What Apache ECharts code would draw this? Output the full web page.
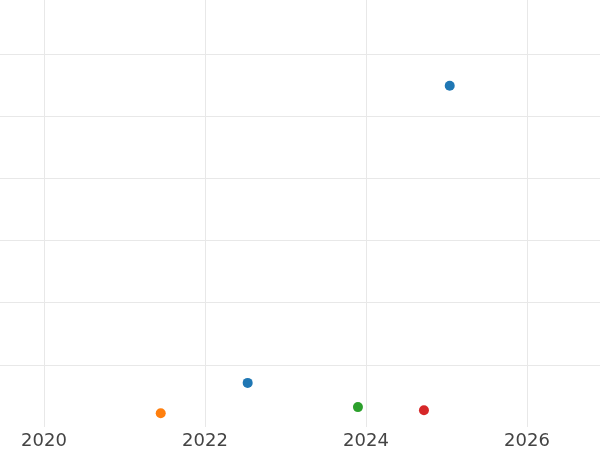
<!DOCTYPE html>
<html>
<head>
<meta charset="utf-8">
<script src="https://cdn.jsdelivr.net/npm/echarts@6/dist/echarts.min.js"></script>
<style>
  html, body { margin: 0; padding: 0; background: #fff; }
  #chart { width: 600px; height: 450px; }
</style>
</head>
<body>
<div id="chart"></div>
<script>
// each series: [year, value]
const seriesNames = ['A', 'B', 'C', 'D']
const seriesColors = ['#1f77b4', '#ff7f0e', '#2ca02c', '#d62728']
const blueData = [[2025.04, 54.9], [2022.53, 7.1]]
const orangeData = [[2021.45, 2.2]]
const greenData = [[2023.90, 3.2]]
const redData = [[2024.72, 2.7]]

const allData = [blueData, orangeData, greenData, redData]

const chart = echarts.init(document.getElementById('chart'))
chart.setOption({
  animation: false,
  backgroundColor: '#fff',
  // plot area runs past the canvas on three sides
  grid: { left: -117, right: -88, top: -8, bottom: 23, containLabel: false, outerBoundsMode: 'none' },
  xAxis: {
    type: 'value',
    min: 2018,
    max: 2028,
    interval: 2,
    axisLine: { show: false },
    axisTick: { show: false },
    axisLabel: {
      color: '#444',
      fontSize: 18,
      fontFamily: 'DejaVu Sans',
      margin: 5,
      formatter: v => String(v)
    },
    splitLine: { show: true, lineStyle: { color: '#e8e8e8', width: 1 } }
  },
  yAxis: {
    type: 'value',
    min: 0,
    max: 70,
    interval: 10,
    axisLine: { show: false },
    axisTick: { show: false },
    axisLabel: { show: false },
    splitLine: { show: true, showMinLine: false, lineStyle: { color: '#e8e8e8', width: 1 } }
  },
  series: allData.map((d, i) => ({
    name: seriesNames[i],
    type: 'scatter',
    data: d,
    symbolSize: 10,
    itemStyle: { color: seriesColors[i], opacity: 1 }
  }))
})
</script>
</body>
</html>
